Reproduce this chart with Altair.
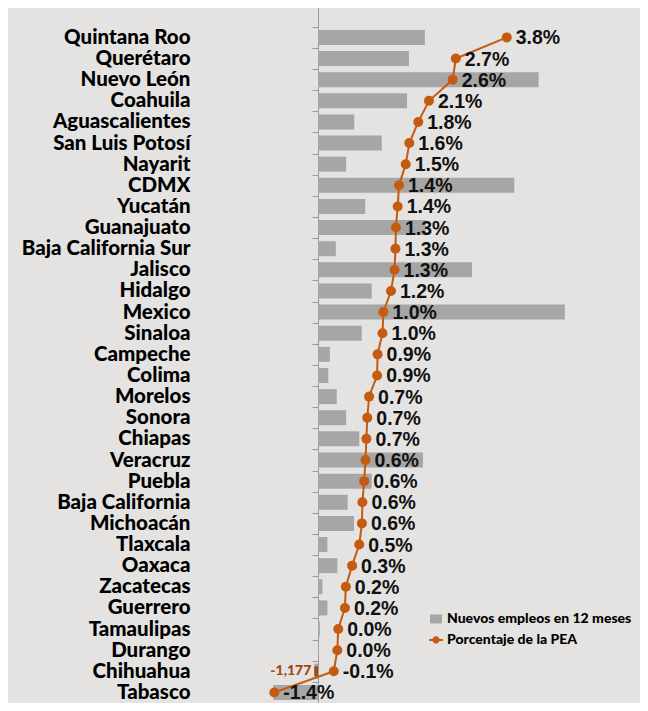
import altair as alt
import pandas as pd

estados = ["Quintana Roo", "Querétaro", "Nuevo León", "Coahuila", "Aguascalientes",
           "San Luis Potosí", "Nayarit", "CDMX", "Yucatán", "Guanajuato",
           "Baja California Sur", "Jalisco", "Hidalgo", "Mexico", "Sinaloa",
           "Campeche", "Colima", "Morelos", "Sonora", "Chiapas", "Veracruz",
           "Puebla", "Baja California", "Michoacán", "Tlaxcala", "Oaxaca",
           "Zacatecas", "Guerrero", "Tamaulipas", "Durango", "Chihuahua", "Tabasco"]

empleos = [34200, 29100, 70600, 28500, 11600, 20400, 9000, 62800, 15100, 34500,
           5700, 49300, 17200, 79000, 14000, 3800, 3300, 6000, 9000, 13200, 33600,
           17200, 9500, 11500, 3000, 6200, 1400, 3000, 600, 200, -1177, -14300]

pct = [3.80, 2.66, 2.59, 2.06, 1.82, 1.62, 1.54, 1.39, 1.36, 1.32, 1.31, 1.29,
       1.21, 1.04, 1.02, 0.91, 0.90, 0.72, 0.68, 0.66, 0.64, 0.61, 0.57, 0.56,
       0.50, 0.34, 0.20, 0.18, 0.03, 0.01, -0.07, -1.40]

series = ["Nuevos empleos en 12 meses", "Porcentaje de la PEA"]

GRAY = "#a6a6a6"
ORANGE = "#c55a11"
BROWN = "#9e4a12"
BG = "#e4e3e1"
HEAVY = "'Lato Black', Lato, sans-serif"

df = pd.DataFrame({"estado": estados, "empleos": empleos, "pct": pct,
                   "idx": list(range(len(estados)))})

y_domain = [" "] + estados
yenc = alt.Y("estado:N",
             scale=alt.Scale(domain=y_domain, range=[-2.3, 695], paddingInner=0, paddingOuter=0),
             axis=alt.Axis(title=None, tickBand="extent", domainColor="#9a9a9a", tickColor="#9a9a9a",
                           tickSize=6, labelPadding=122, labelFont=HEAVY, labelFontSize=20.5,
                           labelFontWeight=900, labelColor="#000000", labelLimit=400))

xbar = alt.X("empleos:Q", scale=alt.Scale(domain=[0, 103040], nice=False, zero=False), axis=None)
xpct = alt.X("pct:Q", scale=alt.Scale(domain=[-0.4228, 6.781], nice=False, zero=False), axis=None)

RECT = "M-0.857,-0.643H0.857V0.643H-0.857Z"
LINEDOT = "M-1,-0.13H1V0.13H-1Z M0.52,0A0.52,0.52,0,1,1,-0.52,0A0.52,0.52,0,1,1,0.52,0Z"

legend = alt.Legend(
    title=None, orient="none", legendX=111, legendY=604, padding=0,
    symbolSize=196, labelFont=HEAVY, labelFontSize=14, labelFontWeight=900,
    labelColor="#000000", rowPadding=7, labelOffset=4, labelLimit=300,
    symbolType=alt.ExprRef(expr="datum.value == '" + series[1] + "' ? '" + LINEDOT + "' : '" + RECT + "'"),
    symbolStrokeWidth=0, symbolOpacity=1)

color = alt.Color("serie:N", scale=alt.Scale(domain=series, range=[GRAY, ORANGE]), legend=legend)

base = alt.Chart(df)

bars = base.transform_calculate(serie="'" + series[0] + "'").mark_bar(size=15).encode(
    x=xbar, y=yenc, color=color)

chi = base.transform_filter(alt.datum.estado == "Chihuahua")
chi_bar = chi.mark_bar(size=10, color=BROWN).encode(x=xbar, y=yenc)
chi_text = chi.transform_calculate(
    lab="replace(format(datum.empleos, ','), '\u2212', '-')"
).mark_text(align="right", baseline="middle", dx=-3, font=HEAVY, fontSize=14,
            fontWeight=900, color=BROWN).encode(x=xbar, y=yenc, text="lab:N")

pbase = base.transform_calculate(serie="'" + series[1] + "'")
line = pbase.mark_line(strokeWidth=2).encode(
    x=xpct, y=yenc, order=alt.Order("idx:Q"), color=color)
points = pbase.mark_point(filled=True, size=100, opacity=1, shape="circle").encode(
    x=xpct, y=yenc, color=color)
labels = base.transform_calculate(
    lab="replace(format(datum.pct, '.1f'), '\u2212', '-') + '%'"
).mark_text(align="left", baseline="middle", dx=9, dy=1, font="Liberation Sans",
            fontSize=19.5, fontWeight="bold", color="#111111").encode(
    x=xpct, y=yenc, text="lab:N")

chart = alt.layer(bars, chi_bar, chi_text, line, points, labels).resolve_scale(
    x="independent"
).properties(
    width=322, height=695,
    padding={"left": 310, "top": 0, "right": 0, "bottom": 0},
    autosize=alt.AutoSizeParams(type="none"),
    background=BG,
).configure_view(strokeOpacity=0)

chart.save("out.html", embed_options={"renderer": "svg", "actions": False})
